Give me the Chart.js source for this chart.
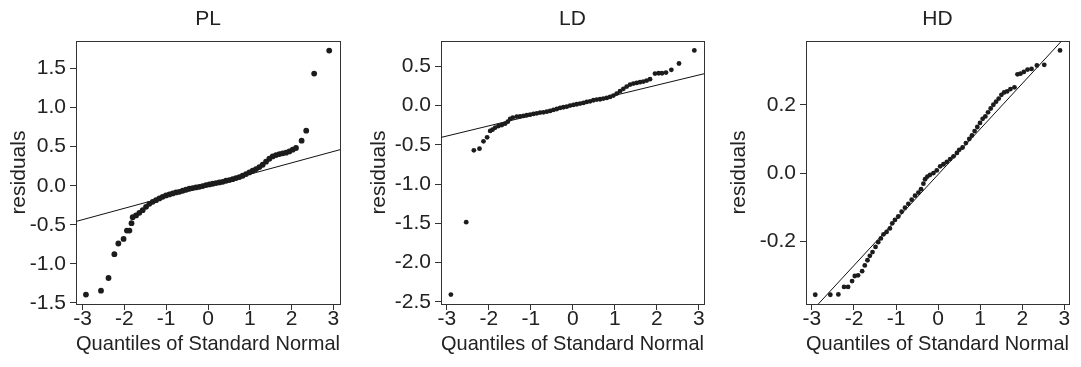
<!DOCTYPE html>
<html>
<head>
<meta charset="utf-8">
<script src="https://cdn.jsdelivr.net/npm/chart.js@4.4.1/dist/chart.umd.min.js"></script>
<style>
  html, body { margin: 0; padding: 0; background: #fff; }
  #wrap { position: relative; width: 1081px; height: 367px; }
  canvas { position: absolute; top: 0; }
</style>
</head>
<body>
<div id="wrap">
  <canvas id="pl" width="360" height="367" style="left:0px"></canvas>
  <canvas id="ld" width="360" height="367" style="left:360px"></canvas>
  <canvas id="hd" width="361" height="367" style="left:720px"></canvas>
</div>
<script>
// Ticks
const xTicks = [-3, -2, -1, 0, 1, 2, 3];
const plYTicks = [-1.5, -1.0, -0.5, 0.0, 0.5, 1.0, 1.5];
const ldYTicks = [-2.5, -2.0, -1.5, -1.0, -0.5, 0.0, 0.5];
const hdYTicks = [-0.2, 0.0, 0.2];

// PL: cuantiles teóricos y residuos ordenados
const plX = [-2.92, -2.56, -2.38, -2.24, -2.145, -2.02, -1.94, -1.88, -1.83,
  -1.802, -1.722, -1.643, -1.563, -1.483, -1.404, -1.324, -1.244, -1.164, -1.085,
  -1.005, -0.925, -0.845, -0.766, -0.686, -0.606, -0.526, -0.447, -0.367, -0.287,
  -0.207, -0.128, -0.048, 0.032, 0.112, 0.191, 0.271, 0.351, 0.431, 0.510,
  0.590, 0.670, 0.750, 0.829, 0.909, 0.989, 1.069, 1.148, 1.228, 1.308,
  1.388, 1.467, 1.547, 1.627, 1.707, 1.786, 1.866, 1.946, 2.026, 2.105,
  2.24, 2.35, 2.54, 2.90];
const plY = [-1.393, -1.342, -1.18, -0.876, -0.739, -0.68, -0.573, -0.573, -0.479,
  -0.402, -0.380, -0.346, -0.312, -0.269, -0.231, -0.205, -0.184, -0.162, -0.141,
  -0.124, -0.111, -0.098, -0.085, -0.077, -0.064, -0.051, -0.038, -0.030, -0.021,
  -0.013, -0.004, 0.009, 0.017, 0.026, 0.034, 0.043, 0.051, 0.064, 0.073,
  0.085, 0.098, 0.111, 0.128, 0.150, 0.171, 0.192, 0.214, 0.239, 0.269,
  0.308, 0.346, 0.376, 0.393, 0.406, 0.415, 0.423, 0.440, 0.462, 0.483,
  0.577, 0.705, 1.436, 1.73];
const plLineX = [-3.16, 3.16];
const plLineY = [-0.457, 0.462];

// LD
const ldX = [-2.905, -2.54, -2.358, -2.224, -2.129, -2.042, -1.97,
  -1.914, -1.851, -1.772, -1.692, -1.613, -1.550, -1.494, -1.431, -1.336, -1.256,
  -1.177, -1.098, -1.019, -0.939, -0.860, -0.781, -0.702, -0.622, -0.543, -0.464,
  -0.384, -0.305, -0.226, -0.147, -0.067, 0.012, 0.091, 0.170, 0.250, 0.329,
  0.408, 0.488, 0.567, 0.646, 0.725, 0.805, 0.884, 0.963, 1.042, 1.121,
  1.201, 1.280, 1.360, 1.439, 1.518, 1.598, 1.677, 1.756, 1.835,
  1.954, 2.041, 2.12, 2.216, 2.343, 2.525, 2.89];
const ldY = [-2.406, -1.484, -0.570, -0.548, -0.455, -0.404, -0.323,
  -0.306, -0.281, -0.260, -0.247, -0.230, -0.204, -0.170, -0.153, -0.140, -0.136,
  -0.132, -0.123, -0.115, -0.106, -0.098, -0.089, -0.085, -0.077, -0.068, -0.055,
  -0.043, -0.030, -0.021, -0.013, 0.0, 0.009, 0.017, 0.026, 0.034, 0.047,
  0.055, 0.068, 0.077, 0.081, 0.089, 0.098, 0.111, 0.128, 0.153, 0.183,
  0.213, 0.242, 0.268, 0.281, 0.289, 0.298, 0.306, 0.319, 0.336,
  0.408, 0.412, 0.412, 0.421, 0.455, 0.536, 0.702];
const ldLineX = [-3.16, 3.14];
const ldLineY = [-0.408, 0.408];

// HD
const hdX = [-2.92, -2.562, -2.371, -2.236, -2.14, -2.045, -1.981, -1.902,
  -1.806, -1.743, -1.679, -1.623, -1.560, -1.488, -1.424, -1.361, -1.297, -1.225,
  -1.146, -1.090, -1.026, -0.947, -0.867, -0.788, -0.708, -0.629, -0.549, -0.469,
  -0.406, -0.350, -0.310, -0.255, -0.191, -0.111, -0.032, 0.048, 0.127, 0.207,
  0.286, 0.366, 0.446, 0.501, 0.581, 0.660, 0.740, 0.804, 0.867, 0.931,
  0.995, 1.058, 1.122, 1.186, 1.249, 1.313, 1.377, 1.440, 1.504, 1.568,
  1.639, 1.719, 1.814, 1.886, 1.957, 2.037, 2.125, 2.22, 2.347, 2.522, 2.897];
const hdY = [-0.356, -0.356, -0.355, -0.333, -0.333, -0.316, -0.301, -0.299,
  -0.287, -0.270, -0.255, -0.242, -0.231, -0.216, -0.202, -0.191, -0.179, -0.172,
  -0.162, -0.147, -0.137, -0.127, -0.113, -0.101, -0.090, -0.078, -0.066, -0.057,
  -0.047, -0.031, -0.018, -0.010, -0.005, 0.0, 0.008, 0.020, 0.026, 0.033,
  0.041, 0.049, 0.059, 0.068, 0.075, 0.088, 0.100, 0.110, 0.123, 0.135,
  0.147, 0.159, 0.166, 0.178, 0.189, 0.200, 0.209, 0.218, 0.229, 0.236,
  0.239, 0.246, 0.251, 0.289, 0.291, 0.296, 0.303, 0.305, 0.315, 0.317, 0.359];
const hdLineX = [-2.87, 2.93];
const hdLineY = [-0.386, 0.386];

const FUENTE = "'Liberation Sans', Arial, sans-serif";
const TEXTO = '#222';
const EJE = '#333';

function aPuntos(xs, ys) {
  return xs.map((x, i) => ({ x: x, y: ys[i] }));
}

function fijarTicks(valores) {
  return scale => { scale.ticks = valores.map(v => ({ value: v })); };
}

function graficoQQ(id, titulo, xs, ys, lx, ly, xLim, yLim, yTicks, anchoY, margenDer, radio) {
  const fuente = { family: FUENTE, size: 21, weight: 'normal' };
  return new Chart(document.getElementById(id).getContext('2d'), {
    type: 'scatter',
    data: {
      datasets: [
        {
          data: aPuntos(xs, ys),
          pointRadius: radio,
          pointBackgroundColor: '#1c1c1c',
          pointBorderWidth: 0
        },
        {
          type: 'line',
          data: aPuntos(lx, ly),
          borderColor: '#111',
          borderWidth: 1,
          pointRadius: 0,
          fill: false,
          tension: 0
        }
      ]
    },
    options: {
      responsive: false,
      animation: false,
      events: [],
      layout: { padding: { left: 0, right: margenDer, top: 0, bottom: 0 } },
      plugins: {
        legend: { display: false },
        tooltip: { enabled: false },
        title: {
          display: true,
          text: titulo,
          fullSize: false,
          color: TEXTO,
          font: fuente,
          padding: { top: 7, bottom: 9 }
        }
      },
      scales: {
        x: {
          type: 'linear',
          min: xLim[0],
          max: xLim[1],
          afterBuildTicks: fijarTicks(xTicks),
          afterFit: s => { s.height = 63; },
          grid: { display: true, drawOnChartArea: false, drawTicks: true, tickLength: 6, color: EJE },
          border: { display: true, color: EJE, width: 1 },
          ticks: { color: TEXTO, font: fuente, padding: -3, maxRotation: 0, autoSkip: false,
                   callback: v => String(v) },
          title: { display: true, text: 'Quantiles of Standard Normal', color: TEXTO, font: fuente,
                   padding: { top: 0, bottom: 10 } }
        },
        y: {
          type: 'linear',
          min: yLim[0],
          max: yLim[1],
          afterBuildTicks: fijarTicks(yTicks),
          afterFit: s => { s.width = anchoY; },
          grid: { display: true, drawOnChartArea: false, drawTicks: true, tickLength: 6, color: EJE },
          border: { display: true, color: EJE, width: 1 },
          ticks: { color: TEXTO, font: fuente, padding: 4, autoSkip: false,
                   callback: v => v.toFixed(1) },
          title: { display: true, text: 'residuals', color: TEXTO, font: fuente,
                   padding: { top: 7, bottom: 0 } }
        },
        // marco superior y derecho
        xMarco: {
          type: 'linear', position: 'top', min: xLim[0], max: xLim[1],
          afterFit: s => { s.height = 0; },
          grid: { display: false, drawTicks: false },
          ticks: { display: false },
          border: { display: true, color: EJE, width: 1 }
        },
        yMarco: {
          type: 'linear', position: 'right', min: yLim[0], max: yLim[1],
          afterFit: s => { s.width = 0; },
          grid: { display: false, drawTicks: false },
          ticks: { display: false },
          border: { display: true, color: EJE, width: 1 }
        }
      }
    }
  });
}

graficoQQ('pl', 'PL', plX, plY, plLineX, plLineY, [-3.158, 3.158], [-1.513, 1.85], plYTicks, 76, 20, 2.9);
graficoQQ('ld', 'LD', ldX, ldY, ldLineX, ldLineY, [-3.14, 3.12], [-2.526, 0.82], ldYTicks, 81, 16, 2.4);
graficoQQ('hd', 'HD', hdX, hdY, hdLineX, hdLineY, [-3.14, 3.11], [-0.383, 0.386], hdYTicks, 86, 12, 2.4);
</script>
</body>
</html>
